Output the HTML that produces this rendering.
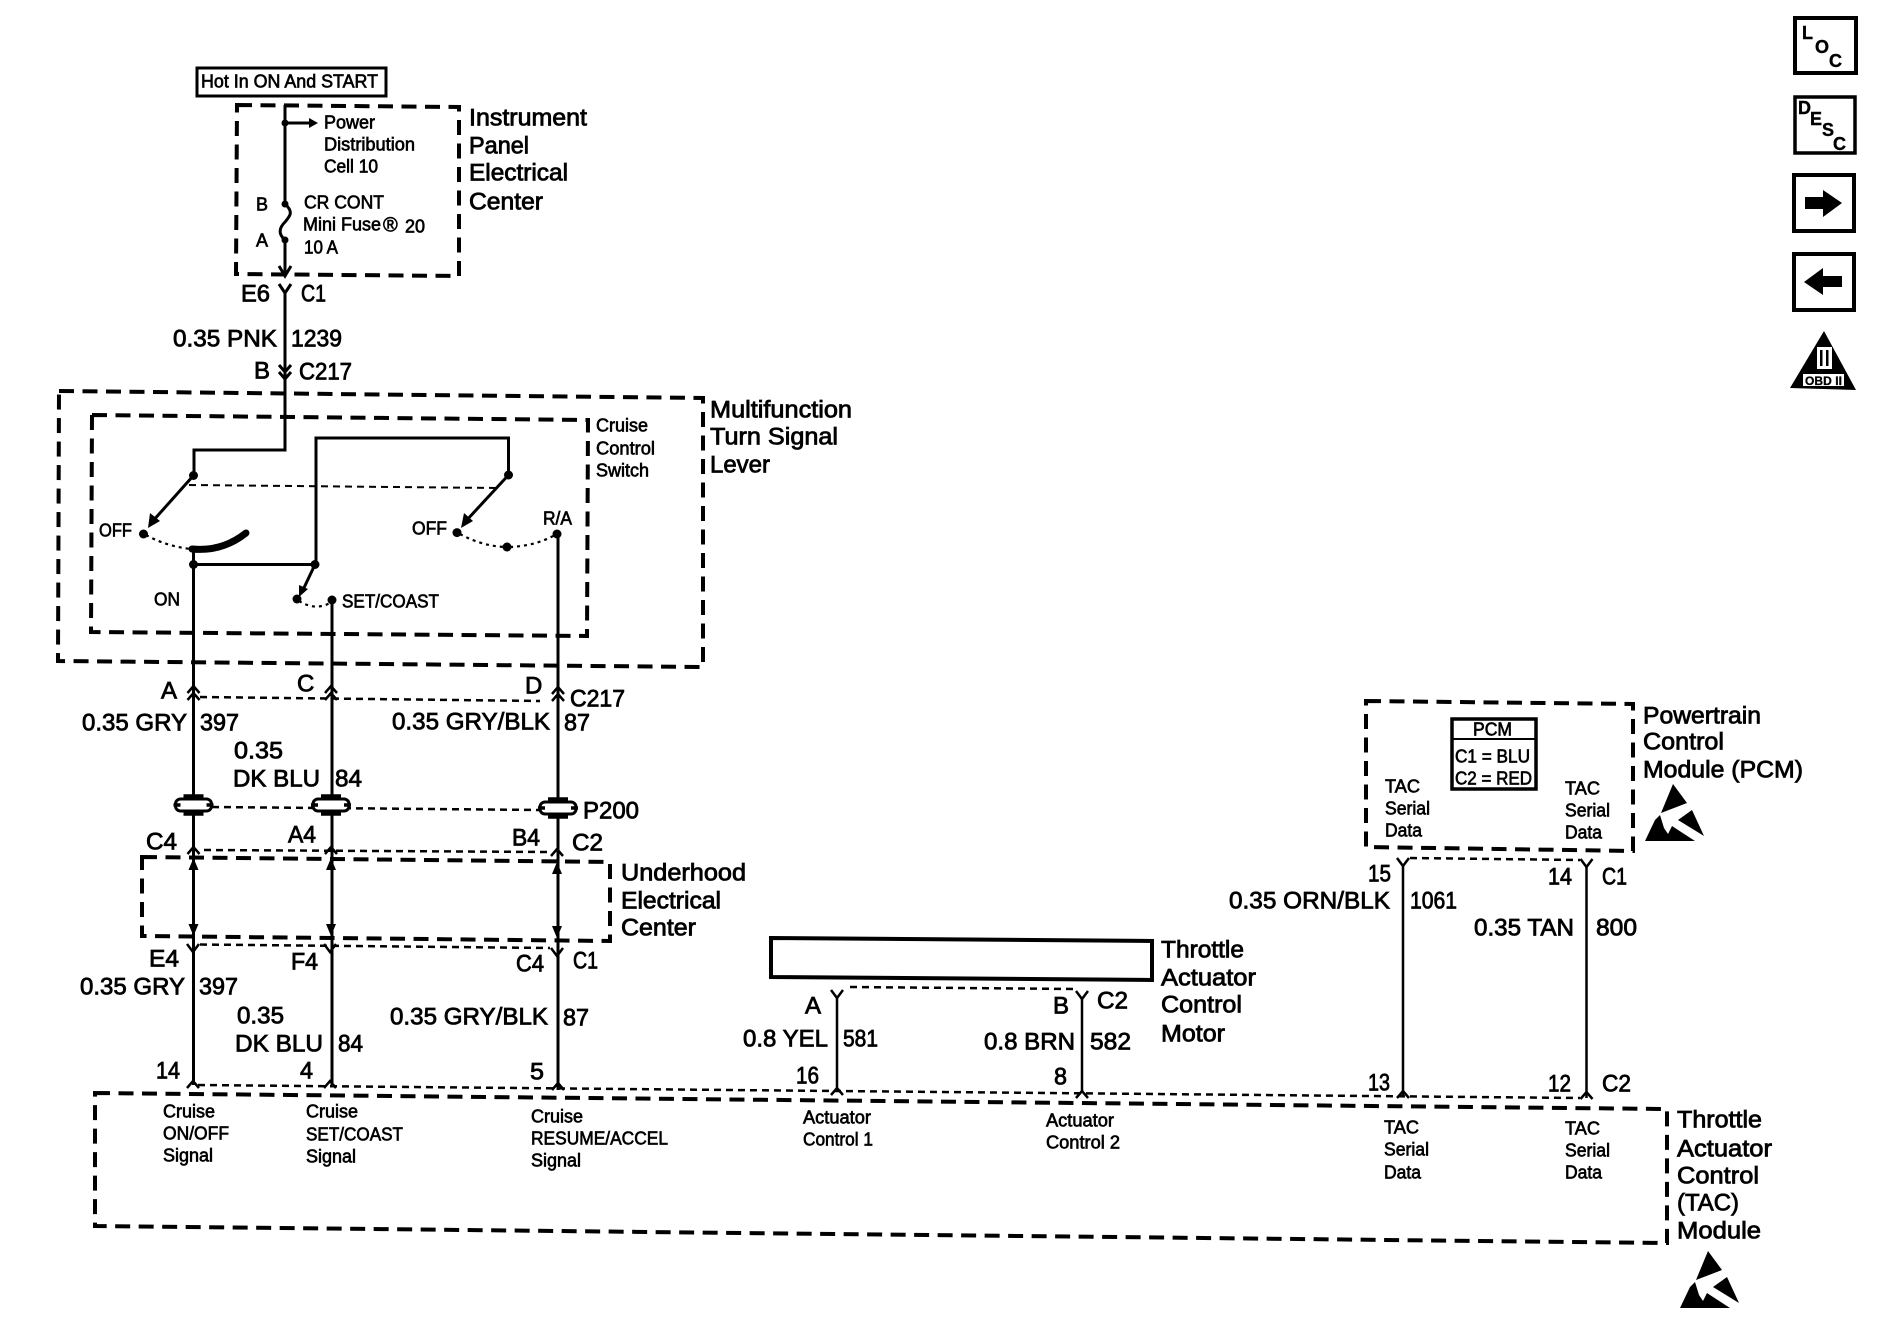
<!DOCTYPE html>
<html><head><meta charset="utf-8"><title>Cruise Control Schematic</title>
<style>
html,body{margin:0;padding:0;background:#fff}
svg{display:block}
text{font-family:"Liberation Sans",sans-serif;fill:#000;stroke:#000}
.l{font-size:24px;stroke-width:.8px;transform:translate(-1px,-.7px)}
.s{font-size:18px;stroke-width:.65px;transform:translate(-1px,-.7px)}
.t{font-size:18px;stroke-width:.4px;font-weight:bold}
.d{fill:none;stroke:#000;stroke-width:4;stroke-dasharray:15 8.5}
.n{fill:none;stroke:#000;stroke-width:2.5;stroke-dasharray:7 5}
.o{fill:none;stroke:#000;stroke-width:2.2;stroke-dasharray:3 4}
.w{fill:none;stroke:#000;stroke-width:3}
.w2{fill:none;stroke:#000;stroke-width:2.5}
.f{fill:#000;stroke:none}
</style></head><body>
<svg width="1886" height="1344" viewBox="0 0 1886 1344" xmlns="http://www.w3.org/2000/svg">
<defs>
<g id="esd"><polygon class="f" points="29,0 43,19 17,29"/><polygon class="f" points="1,57 11,36 16,31 20,44 24,50 28,42 31,44 51,57"/><polygon class="f" points="34,36 48,26 60,52"/></g>
<g id="pg"><rect x="-18" y="-6" width="36" height="12" rx="5" fill="#fff" stroke="#000" stroke-width="3"/><path d="M-10 -9H10M-10 9H10M-20 0H-13M13 0H20" stroke="#000" stroke-width="3.5"/></g>
<path id="u" d="M-6 7L0 0L6 7" fill="none" stroke="#000" stroke-width="2.5"/>
<path id="y" d="M-6 0L0 8L6 0" fill="none" stroke="#000" stroke-width="2.5"/>
</defs>
<rect width="1886" height="1344" fill="#fff"/>

<!-- nav icons -->
<rect x="1795" y="18" width="61" height="55" fill="none" stroke="#000" stroke-width="4"/>
<text class="t" x="1802" y="39">L</text><text class="t" x="1815" y="53">O</text><text class="t" x="1829" y="67">C</text>
<rect x="1795" y="97" width="60" height="56" fill="none" stroke="#000" stroke-width="3.5"/>
<text class="t" x="1798" y="114">D</text><text class="t" x="1810" y="125">E</text><text class="t" x="1822" y="136">S</text><text class="t" x="1833" y="150">C</text>
<rect x="1794" y="175" width="60" height="56" fill="none" stroke="#000" stroke-width="4"/>
<polygon class="f" points="1805,197 1823,197 1823,190 1842,203 1823,217 1823,209 1805,209"/>
<rect x="1794" y="254" width="60" height="56" fill="none" stroke="#000" stroke-width="4"/>
<polygon class="f" points="1804,282 1823,268 1823,276 1842,276 1842,287 1823,287 1823,295"/>
<polygon class="f" points="1824,331 1790,388 1856,390"/>
<rect x="1817" y="347" width="15" height="22" fill="#fff"/><rect x="1820" y="350" width="2.5" height="16" fill="#000"/><rect x="1826" y="350" width="2.5" height="16" fill="#000"/>
<rect x="1803" y="374" width="41" height="12" fill="#fff"/>
<text x="1805" y="385" style="font-size:12px;font-weight:bold;stroke-width:.3px" textLength="37">OBD II</text>

<!-- dashed module boxes -->
<path class="d" d="M237 105L459 107L459 276L236 274Z"/>
<path class="d" d="M59 391L703 398L703 667L58 661Z"/>
<path class="d" d="M92 415L588 420L587 636L91 632Z"/>
<path class="d" d="M142 857L610 862L610 941L142 936Z"/>
<path class="d" d="M1366 701L1633 704L1633 851L1366 847Z"/>
<path class="d" d="M95 1093L1667 1109L1667 1243L95 1226Z"/>

<!-- connector dash links -->
<path class="n" d="M200 697L540 701"/>
<path class="n" d="M212 807L540 810"/>
<path class="n" d="M204 850L548 852"/>
<path class="n" d="M200 944.5L550 948"/>
<path class="n" d="M198 1085L1580 1098"/>
<path class="n" d="M850 987L1075 989"/>
<path class="n" d="M1410 858L1580 860"/>
<path class="n" style="stroke-width:2" d="M189 485L497 488"/>

<!-- hot box -->
<rect x="197" y="68" width="189" height="28" fill="#fff" stroke="#000" stroke-width="3"/>
<text class="s" x="202" y="88" textLength="177" lengthAdjust="spacingAndGlyphs">Hot In ON And START</text>

<!-- instrument panel -->
<path class="w" d="M285 105V204M285 240V274"/>
<path d="M285 204C294 212 290 216 285 222C279 228 278 234 285 240" class="w"/>
<circle cx="285" cy="123" r="3.5"/><circle cx="285" cy="204" r="3.5"/><circle cx="285" cy="240" r="3.5"/>
<path class="w" d="M285 123H312"/><polygon class="f" points="309,118 318,123 309,128"/>
<path class="w" d="M279 266L285 276L291 266"/>
<text class="s" x="325" y="129" textLength="51" lengthAdjust="spacingAndGlyphs">Power</text>
<text class="s" x="325" y="151" textLength="91" lengthAdjust="spacingAndGlyphs">Distribution</text>
<text class="s" x="325" y="173" textLength="54" lengthAdjust="spacingAndGlyphs">Cell 10</text>
<text class="s" x="257" y="211">B</text><text class="s" x="257" y="247">A</text>
<text class="s" x="305" y="209" textLength="80" lengthAdjust="spacingAndGlyphs">CR CONT</text>
<text class="s" x="304" y="231" textLength="78" lengthAdjust="spacingAndGlyphs">Mini Fuse</text>
<text class="s" x="384" y="232" style="font-size:20px">®</text>
<text class="s" x="406" y="233" textLength="20" lengthAdjust="spacingAndGlyphs">20</text>
<text class="s" x="305" y="254" textLength="34" lengthAdjust="spacingAndGlyphs">10 A</text>
<text class="l" x="470" y="126" textLength="118" lengthAdjust="spacingAndGlyphs">Instrument</text>
<text class="l" x="470" y="154" textLength="60" lengthAdjust="spacingAndGlyphs">Panel</text>
<text class="l" x="470" y="181" textLength="99" lengthAdjust="spacingAndGlyphs">Electrical</text>
<text class="l" x="470" y="210" textLength="74" lengthAdjust="spacingAndGlyphs">Center</text>
<text class="l" x="242" y="302" textLength="29" lengthAdjust="spacingAndGlyphs">E6</text>
<text class="l" x="302" y="302" textLength="25" lengthAdjust="spacingAndGlyphs">C1</text>
<path class="w" d="M279 284L285 293L291 284M285 293V450H194V475"/>
<text class="l" x="174" y="347" textLength="104" lengthAdjust="spacingAndGlyphs">0.35 PNK</text>
<text class="l" x="292" y="347" textLength="51" lengthAdjust="spacingAndGlyphs">1239</text>
<text class="l" x="255" y="379">B</text>
<text class="l" x="300" y="380" textLength="53" lengthAdjust="spacingAndGlyphs">C217</text>
<path class="w" d="M279 365L285 372L291 365M279 372L285 379L291 372"/>

<!-- switch -->
<text class="l" x="711" y="418" textLength="142" lengthAdjust="spacingAndGlyphs">Multifunction</text>
<text class="l" x="711" y="445" textLength="128" lengthAdjust="spacingAndGlyphs">Turn Signal</text>
<text class="l" x="711" y="473" textLength="60" lengthAdjust="spacingAndGlyphs">Lever</text>
<text class="s" x="597" y="432" textLength="52" lengthAdjust="spacingAndGlyphs">Cruise</text>
<text class="s" x="597" y="455" textLength="59" lengthAdjust="spacingAndGlyphs">Control</text>
<text class="s" x="597" y="477" textLength="53" lengthAdjust="spacingAndGlyphs">Switch</text>
<circle cx="193.5" cy="475.5" r="4.5"/><circle cx="508.5" cy="475" r="4.5"/>
<path class="w" d="M193.5 475.5L152 522M508.5 475L465 522"/>
<polygon class="f" points="148,528 150,513 160,521"/><polygon class="f" points="461,528 464,513 473,521"/>
<text class="s" x="100" y="537" textLength="33" lengthAdjust="spacingAndGlyphs">OFF</text>
<circle cx="143.5" cy="534" r="4.5"/>
<path class="o" d="M146 535Q168 547 192 549"/>
<path d="M192 549Q222 552 246 533" fill="none" stroke="#000" stroke-width="7" stroke-linecap="round"/>
<circle cx="193.5" cy="564.5" r="4.5"/>
<path class="w" d="M193.5 549V1085M193.5 564.5H316V438H508.5V475"/>
<circle cx="315" cy="564.5" r="4.5"/>
<path class="w" d="M315 564.5L302 592"/>
<polygon class="f" points="299,597 299,585 308,589"/>
<circle cx="297" cy="599" r="4.5"/><circle cx="332" cy="600" r="4.5"/>
<path class="o" d="M299 601Q315 611 330 603"/>
<text class="s" x="343" y="608" textLength="97" lengthAdjust="spacingAndGlyphs">SET/COAST</text>
<text class="s" x="155" y="606" textLength="26" lengthAdjust="spacingAndGlyphs">ON</text>
<text class="s" x="413" y="535" textLength="35" lengthAdjust="spacingAndGlyphs">OFF</text>
<text class="s" x="544" y="525" textLength="29" lengthAdjust="spacingAndGlyphs">R/A</text>
<circle cx="457" cy="532.6" r="4.5"/><circle cx="507" cy="547" r="4.5"/><circle cx="557" cy="534" r="4.5"/>
<path class="o" d="M460 534Q482 546 505 547M510 547Q535 546 555 535"/>
<path class="w" d="M332 600V1087M558 534V1090"/>

<!-- C217 row -->
<text class="l" x="162" y="699">A</text>
<text class="l" x="298" y="692">C</text>
<text class="l" x="526" y="694">D</text>
<text class="l" x="571" y="707" textLength="55" lengthAdjust="spacingAndGlyphs">C217</text>
<use href="#u" x="193.5" y="686"/><use href="#u" x="193.5" y="693"/>
<use href="#u" x="331" y="686"/><use href="#u" x="331" y="693"/>
<use href="#u" x="558" y="687"/><use href="#u" x="558" y="694"/>
<text class="l" x="83" y="731" textLength="105" lengthAdjust="spacingAndGlyphs">0.35 GRY</text>
<text class="l" x="201" y="731" textLength="39" lengthAdjust="spacingAndGlyphs">397</text>
<text class="l" x="235" y="759" textLength="49" lengthAdjust="spacingAndGlyphs">0.35</text>
<text class="l" x="234" y="787" textLength="87" lengthAdjust="spacingAndGlyphs">DK BLU</text>
<text class="l" x="336" y="787" textLength="27" lengthAdjust="spacingAndGlyphs">84</text>
<text class="l" x="393" y="730" textLength="158" lengthAdjust="spacingAndGlyphs">0.35 GRY/BLK</text>
<text class="l" x="565" y="731" textLength="26" lengthAdjust="spacingAndGlyphs">87</text>

<!-- P200 -->
<use href="#pg" x="193.5" y="805"/><use href="#pg" x="331" y="805"/><use href="#pg" x="558" y="808"/>
<text class="l" x="584" y="819" textLength="56" lengthAdjust="spacingAndGlyphs">P200</text>
<text class="l" x="147" y="850" textLength="31" lengthAdjust="spacingAndGlyphs">C4</text>
<text class="l" x="289" y="843" textLength="28" lengthAdjust="spacingAndGlyphs">A4</text>
<text class="l" x="513" y="846" textLength="28" lengthAdjust="spacingAndGlyphs">B4</text>
<text class="l" x="573" y="851" textLength="31" lengthAdjust="spacingAndGlyphs">C2</text>
<use href="#u" x="193.5" y="847"/><use href="#u" x="331" y="847"/><use href="#u" x="557" y="849"/>

<!-- underhood -->
<text class="l" x="622" y="881" textLength="125" lengthAdjust="spacingAndGlyphs">Underhood</text>
<text class="l" x="622" y="909" textLength="100" lengthAdjust="spacingAndGlyphs">Electrical</text>
<text class="l" x="622" y="936" textLength="75" lengthAdjust="spacingAndGlyphs">Center</text>
<polygon class="f" points="188.5,870 193.5,858 198.5,870"/><polygon class="f" points="188.5,924 193.5,936 198.5,924"/>
<polygon class="f" points="326,870 331,858 336,870"/><polygon class="f" points="326,924 331,936 336,924"/>
<polygon class="f" points="552,874 557,862 562,874"/><polygon class="f" points="552,926 557,938 562,926"/>
<use href="#y" x="193" y="944"/><use href="#y" x="330" y="944"/><use href="#y" x="557" y="948"/>

<!-- below underhood -->
<text class="l" x="150" y="967" textLength="30" lengthAdjust="spacingAndGlyphs">E4</text>
<text class="l" x="292" y="970" textLength="27" lengthAdjust="spacingAndGlyphs">F4</text>
<text class="l" x="517" y="972" textLength="28" lengthAdjust="spacingAndGlyphs">C4</text>
<text class="l" x="574" y="969" textLength="25" lengthAdjust="spacingAndGlyphs">C1</text>
<text class="l" x="81" y="995" textLength="105" lengthAdjust="spacingAndGlyphs">0.35 GRY</text>
<text class="l" x="200" y="995" textLength="39" lengthAdjust="spacingAndGlyphs">397</text>
<text class="l" x="238" y="1024" textLength="47" lengthAdjust="spacingAndGlyphs">0.35</text>
<text class="l" x="236" y="1052" textLength="88" lengthAdjust="spacingAndGlyphs">DK BLU</text>
<text class="l" x="339" y="1052" textLength="25" lengthAdjust="spacingAndGlyphs">84</text>
<text class="l" x="391" y="1025" textLength="158" lengthAdjust="spacingAndGlyphs">0.35 GRY/BLK</text>
<text class="l" x="564" y="1026" textLength="26" lengthAdjust="spacingAndGlyphs">87</text>
<text class="l" x="157" y="1079" textLength="24" lengthAdjust="spacingAndGlyphs">14</text>
<text class="l" x="301" y="1079" textLength="13" lengthAdjust="spacingAndGlyphs">4</text>
<text class="l" x="531" y="1080" textLength="14" lengthAdjust="spacingAndGlyphs">5</text>
<use href="#u" x="193" y="1081"/><use href="#u" x="330" y="1081"/><use href="#u" x="558" y="1083"/>

<!-- TAC module labels -->
<text class="s" x="164" y="1118" textLength="52" lengthAdjust="spacingAndGlyphs">Cruise</text>
<text class="s" x="164" y="1140" textLength="66" lengthAdjust="spacingAndGlyphs">ON/OFF</text>
<text class="s" x="164" y="1162" textLength="50" lengthAdjust="spacingAndGlyphs">Signal</text>
<text class="s" x="307" y="1118" textLength="52" lengthAdjust="spacingAndGlyphs">Cruise</text>
<text class="s" x="307" y="1141" textLength="97" lengthAdjust="spacingAndGlyphs">SET/COAST</text>
<text class="s" x="307" y="1163" textLength="50" lengthAdjust="spacingAndGlyphs">Signal</text>
<text class="s" x="532" y="1123" textLength="52" lengthAdjust="spacingAndGlyphs">Cruise</text>
<text class="s" x="532" y="1145" textLength="137" lengthAdjust="spacingAndGlyphs">RESUME/ACCEL</text>
<text class="s" x="532" y="1167" textLength="50" lengthAdjust="spacingAndGlyphs">Signal</text>
<text class="s" x="804" y="1124" textLength="68" lengthAdjust="spacingAndGlyphs">Actuator</text>
<text class="s" x="804" y="1146" textLength="70" lengthAdjust="spacingAndGlyphs">Control 1</text>
<text class="s" x="1047" y="1127" textLength="68" lengthAdjust="spacingAndGlyphs">Actuator</text>
<text class="s" x="1047" y="1149" textLength="74" lengthAdjust="spacingAndGlyphs">Control 2</text>
<text class="s" x="1385" y="1134" textLength="35" lengthAdjust="spacingAndGlyphs">TAC</text>
<text class="s" x="1385" y="1156" textLength="45" lengthAdjust="spacingAndGlyphs">Serial</text>
<text class="s" x="1385" y="1179" textLength="37" lengthAdjust="spacingAndGlyphs">Data</text>
<text class="s" x="1566" y="1135" textLength="35" lengthAdjust="spacingAndGlyphs">TAC</text>
<text class="s" x="1566" y="1157" textLength="45" lengthAdjust="spacingAndGlyphs">Serial</text>
<text class="s" x="1566" y="1179" textLength="37" lengthAdjust="spacingAndGlyphs">Data</text>
<text class="l" x="1678" y="1128" textLength="85" lengthAdjust="spacingAndGlyphs">Throttle</text>
<text class="l" x="1678" y="1157" textLength="95" lengthAdjust="spacingAndGlyphs">Actuator</text>
<text class="l" x="1678" y="1184" textLength="82" lengthAdjust="spacingAndGlyphs">Control</text>
<text class="l" x="1678" y="1211" textLength="62" lengthAdjust="spacingAndGlyphs">(TAC)</text>
<text class="l" x="1678" y="1239" textLength="84" lengthAdjust="spacingAndGlyphs">Module</text>
<use href="#esd" x="1679" y="1251"/>

<!-- throttle motor -->
<path d="M771 938L1152 941L1152 980L771 977Z" fill="none" stroke="#000" stroke-width="4"/>
<text class="l" x="1162" y="958" textLength="83" lengthAdjust="spacingAndGlyphs">Throttle</text>
<text class="l" x="1162" y="986" textLength="95" lengthAdjust="spacingAndGlyphs">Actuator</text>
<text class="l" x="1162" y="1013" textLength="81" lengthAdjust="spacingAndGlyphs">Control</text>
<text class="l" x="1162" y="1042" textLength="64" lengthAdjust="spacingAndGlyphs">Motor</text>
<use href="#y" x="837" y="990"/><use href="#y" x="1082" y="991"/>
<path class="w2" d="M837 997V1088M1082 998V1091"/>
<use href="#u" x="837" y="1088"/><use href="#u" x="1082" y="1091"/>
<text class="l" x="806" y="1014">A</text>
<text class="l" x="1054" y="1014">B</text>
<text class="l" x="1098" y="1009" textLength="31" lengthAdjust="spacingAndGlyphs">C2</text>
<text class="l" x="744" y="1047" textLength="85" lengthAdjust="spacingAndGlyphs">0.8 YEL</text>
<text class="l" x="844" y="1047" textLength="35" lengthAdjust="spacingAndGlyphs">581</text>
<text class="l" x="985" y="1050" textLength="91" lengthAdjust="spacingAndGlyphs">0.8 BRN</text>
<text class="l" x="1091" y="1050" textLength="41" lengthAdjust="spacingAndGlyphs">582</text>
<text class="l" x="797" y="1084" textLength="23" lengthAdjust="spacingAndGlyphs">16</text>
<text class="l" x="1055" y="1085" textLength="13" lengthAdjust="spacingAndGlyphs">8</text>

<!-- PCM -->
<rect x="1452" y="719" width="84" height="70" fill="none" stroke="#000" stroke-width="3.5"/>
<path d="M1452 739H1536" stroke="#000" stroke-width="2"/>
<text class="s" x="1474" y="736" textLength="39" lengthAdjust="spacingAndGlyphs">PCM</text>
<text class="s" x="1456" y="763" textLength="75" lengthAdjust="spacingAndGlyphs">C1 = BLU</text>
<text class="s" x="1456" y="785" textLength="77" lengthAdjust="spacingAndGlyphs">C2 = RED</text>
<text class="s" x="1386" y="793" textLength="35" lengthAdjust="spacingAndGlyphs">TAC</text>
<text class="s" x="1386" y="815" textLength="45" lengthAdjust="spacingAndGlyphs">Serial</text>
<text class="s" x="1386" y="837" textLength="37" lengthAdjust="spacingAndGlyphs">Data</text>
<text class="s" x="1566" y="795" textLength="35" lengthAdjust="spacingAndGlyphs">TAC</text>
<text class="s" x="1566" y="817" textLength="45" lengthAdjust="spacingAndGlyphs">Serial</text>
<text class="s" x="1566" y="839" textLength="37" lengthAdjust="spacingAndGlyphs">Data</text>
<text class="l" x="1644" y="724" textLength="118" lengthAdjust="spacingAndGlyphs">Powertrain</text>
<text class="l" x="1644" y="750" textLength="81" lengthAdjust="spacingAndGlyphs">Control</text>
<text class="l" x="1644" y="778" textLength="160" lengthAdjust="spacingAndGlyphs">Module (PCM)</text>
<use href="#esd" x="1644" y="784"/>
<use href="#y" x="1403" y="858"/><use href="#y" x="1586.5" y="859"/>
<path class="w2" d="M1403 865V1097M1586.5 866V1098"/>
<use href="#u" x="1403" y="1091"/><use href="#u" x="1586.5" y="1092"/>
<text class="l" x="1369" y="882" textLength="23" lengthAdjust="spacingAndGlyphs">15</text>
<text class="l" x="1549" y="885" textLength="24" lengthAdjust="spacingAndGlyphs">14</text>
<text class="l" x="1603" y="885" textLength="25" lengthAdjust="spacingAndGlyphs">C1</text>
<text class="l" x="1230" y="909" textLength="161" lengthAdjust="spacingAndGlyphs">0.35 ORN/BLK</text>
<text class="l" x="1411" y="909" textLength="47" lengthAdjust="spacingAndGlyphs">1061</text>
<text class="l" x="1475" y="936" textLength="100" lengthAdjust="spacingAndGlyphs">0.35 TAN</text>
<text class="l" x="1597" y="936" textLength="41" lengthAdjust="spacingAndGlyphs">800</text>
<text class="l" x="1369" y="1091" textLength="22" lengthAdjust="spacingAndGlyphs">13</text>
<text class="l" x="1549" y="1092" textLength="23" lengthAdjust="spacingAndGlyphs">12</text>
<text class="l" x="1603" y="1092" textLength="29" lengthAdjust="spacingAndGlyphs">C2</text>
</svg>
</body></html>
